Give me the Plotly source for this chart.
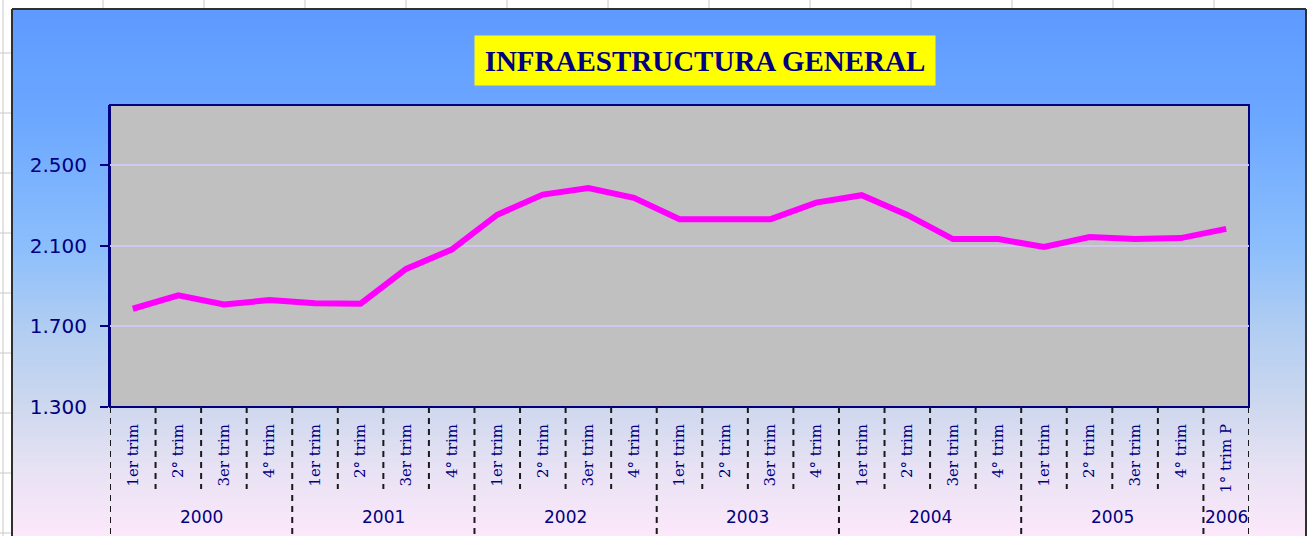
import plotly.graph_objects as go

# ---------------- data ----------------
years = ["2000", "2001", "2002", "2003", "2004", "2005", "2006"]
quarters_per_year = [4, 4, 4, 4, 4, 4, 1]
quarter_labels = [
    "1er trim", "2° trim", "3er trim", "4° trim",
    "1er trim", "2° trim", "3er trim", "4° trim",
    "1er trim", "2° trim", "3er trim", "4° trim",
    "1er trim", "2° trim", "3er trim", "4° trim",
    "1er trim", "2° trim", "3er trim", "4° trim",
    "1er trim", "2° trim", "3er trim", "4° trim",
    "1° trim P",
]
values = [1788, 1855, 1809, 1831, 1815, 1813, 1986, 2082, 2255, 2355, 2388, 2339,
          2233, 2236, 2233, 2315, 2352, 2254, 2134, 2134, 2095, 2144, 2134, 2139, 2185]
y_ticks = [1300, 1700, 2100, 2500]
y_ticktext = ["1.300", "1.700", "2.100", "2.500"]
title_text = "INFRAESTRUCTURA GENERAL"

# ---------------- geometry helpers (pixels -> paper) ----------------
W, H = 1307, 536
L, R, T, B = 110, 1249, 105, 407


def pxx(p):
    return (p - L) / (R - L)


def pxy(p):
    return (B - p) / (B - T)


NAVY = "#000080"
x_idx = list(range(len(values)))

fig = go.Figure()
fig.add_trace(go.Scatter(
    x=x_idx, y=values, mode="lines",
    line=dict(color="#ff00ff", width=6),
    hoverinfo="skip", showlegend=False,
))

shapes = []
# spreadsheet grid behind the chart object
GRID = "#c8c8c8"
for gx in [103 + 101 * k for k in range(12)]:
    shapes.append(dict(type="line", xref="paper", yref="paper", x0=pxx(gx), x1=pxx(gx),
                       y0=pxy(0), y1=pxy(9), line=dict(color=GRID, width=1), layer="below"))
for gy in [53 + 60 * k for k in range(9)]:
    shapes.append(dict(type="line", xref="paper", yref="paper", x0=pxx(0), x1=pxx(12),
                       y0=pxy(gy), y1=pxy(gy), line=dict(color=GRID, width=1), layer="below"))
shapes.append(dict(type="line", xref="paper", yref="paper", x0=pxx(3), x1=pxx(3),
                   y0=pxy(0), y1=pxy(536), line=dict(color=GRID, width=1), layer="below"))

# gradient background of the chart object
stops = [(9, (94, 154, 255)), (120, (108, 168, 255)), (246, (140, 190, 252)),
         (326, (176, 205, 242)), (407, (206, 216, 238)), (470, (232, 226, 244)),
         (536, (252, 232, 250))]


def grad(yp):
    for (y0, c0), (y1, c1) in zip(stops[:-1], stops[1:]):
        if y0 <= yp <= y1:
            t = (yp - y0) / (y1 - y0)
            return "rgb(%d,%d,%d)" % tuple(round(a + (b - a) * t) for a, b in zip(c0, c1))
    return "rgb(%d,%d,%d)" % stops[-1][1]


step = 2
yp = 9
while yp < 536:
    shapes.append(dict(type="rect", xref="paper", yref="paper", x0=pxx(12), x1=pxx(1306),
                       y0=pxy(yp), y1=pxy(min(yp + step + 0.6, 537)),
                       fillcolor=grad(yp + step / 2), line=dict(width=0), layer="below"))
    yp += step

# outer border of chart object
for (x0, y0, x1, y1) in [(12, 9, 1306, 9), (12, 9, 12, 536), (1306, 9, 1306, 536)]:
    shapes.append(dict(type="line", xref="paper", yref="paper", x0=pxx(x0), x1=pxx(x1),
                       y0=pxy(y0), y1=pxy(y1), line=dict(color="#303030", width=2), layer="below"))

# plot area
shapes.append(dict(type="rect", xref="paper", yref="paper", x0=0, x1=1, y0=0, y1=1,
                   fillcolor="#c0c0c0", line=dict(color=NAVY, width=2), layer="below"))

# category dividers (dashed)
pos = 0
year_bounds = [-0.5]
for n in quarters_per_year:
    pos += n
    year_bounds.append(pos - 0.5)
for i in range(len(values) + 1):
    b = i - 0.5
    long_line = b in year_bounds
    shapes.append(dict(type="line", xref="x", yref="paper", x0=b, x1=b,
                       y0=0, y1=pxy(545 if long_line else 489),
                       line=dict(color="#1a1a1a", width=2, dash="6px,5px"), layer="above"))

# year labels
annotations = []
start = 0
for yr, n in zip(years, quarters_per_year):
    annotations.append(dict(x=start + (n - 1) / 2, y=pxy(517), xref="x", yref="paper",
                            text=yr, showarrow=False, xanchor="center", yanchor="middle",
                            font=dict(family="DejaVu Sans", size=17, color=NAVY)))
    start += n

annotations.append(dict(x=pxx(705), y=pxy(61), xref="paper", yref="paper",
                        text="<b>%s</b>" % title_text, showarrow=False,
                        xanchor="center", yanchor="middle",
                        bgcolor="#ffff00", width=456, height=45, borderpad=2,
                        font=dict(family="Liberation Serif", size=29, color=NAVY)))

fig.update_layout(
    width=W, height=H, autosize=False,
    margin=dict(l=L, r=W - R, t=T, b=H - B, pad=0),
    paper_bgcolor="white", plot_bgcolor="rgba(0,0,0,0)",
    shapes=shapes, annotations=annotations, showlegend=False,
    xaxis=dict(range=[-0.5, len(values) - 0.5], tickmode="array", tickvals=x_idx,
               ticktext=quarter_labels, tickangle=-90, ticks="outside", ticklen=10,
               tickcolor="rgba(0,0,0,0)", showgrid=False, zeroline=False, showline=False,
               tickfont=dict(family="DejaVu Serif", size=15, color=NAVY), fixedrange=True),
    yaxis=dict(range=[1300, 2800], tickmode="array", tickvals=y_ticks, ticktext=y_ticktext,
               ticks="outside", ticklen=8, tickwidth=2, tickcolor=NAVY, ticklabelstandoff=9,
               showgrid=True, gridcolor="#d0c8f0", gridwidth=2, zeroline=False,
               showline=True, linecolor=NAVY, linewidth=2,
               tickfont=dict(family="DejaVu Sans", size=20, color=NAVY), fixedrange=True),
)

fig.write_html("out.html", config={"displayModeBar": False},
               post_script="document.body.style.margin='0';document.body.style.overflow='hidden';")
